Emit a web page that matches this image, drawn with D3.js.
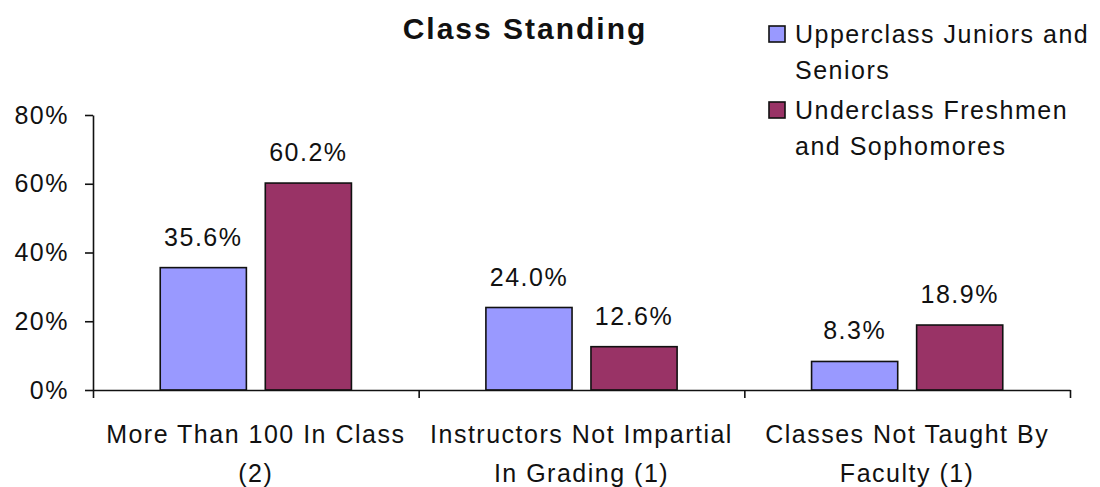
<!DOCTYPE html>
<html lang="en">
<head>
  <meta charset="UTF-8">
  <script src="https://cdn.jsdelivr.net/npm/d3@7"></script>
  <title>Class Standing</title>
  <style>
    body { margin: 0; background: #fff; }
    text { font-family: "Liberation Sans", Arial, sans-serif; fill: #111; }
    .lbl { font-size: 25px; letter-spacing: 1.5px; }
    .axis path, .axis line { stroke: #111; stroke-width: 1.6; }
    .bar { stroke: #111; stroke-width: 1.6; }
  </style>
</head>
<body>
  <script>
    const categories = ["More Than 100 In Class (2)", "Instructors Not Impartial In Grading (1)", "Classes Not Taught By Faculty (1)"]
    const categoryLines = [["More Than 100 In Class", "(2)"], ["Instructors Not Impartial", "In Grading (1)"], ["Classes Not Taught By", "Faculty (1)"]]
    const series = ["Upperclass Juniors and Seniors", "Underclass Freshmen and Sophomores"]
    const seriesLines = [["Upperclass Juniors and", "Seniors"], ["Underclass Freshmen", "and Sophomores"]]
    const upperclass = [0.356, 0.240, 0.083]
    const underclass = [0.602, 0.126, 0.189]
    const yTicks = [0, 0.2, 0.4, 0.6, 0.8]
    const colors = ["#9999ff", "#993366"]

    const values = [upperclass, underclass]
    const data = categories.map((c, i) => ({ cat: c, vals: series.map((s, j) => ({ s, v: values[j][i] })) }))

    const svg = d3.select('body').append('svg')
      .attr('width', 1100)
      .attr('height', 487)

    const y = d3.scaleLinear().domain([0, 0.8]).range([390, 115])
    const x0 = d3.scaleBand().domain(categories).range([93, 1070])
    const x1 = d3.scaleBand().domain(series).range([0, x0.bandwidth()])
      .paddingInner(0.18).paddingOuter(0.64)
    const color = d3.scaleOrdinal().domain(series).range(colors)

    // title
    svg.append('text')
      .attr('x', 525).attr('y', 39)
      .attr('text-anchor', 'middle')
      .style('font-size', '30px').style('font-weight', 'bold').style('letter-spacing', '2px')
      .text('Class Standing')

    // y axis
    svg.append('g').attr('class', 'axis')
      .attr('transform', 'translate(93,0)')
      .call(d3.axisLeft(y).tickValues(yTicks).tickFormat(d3.format('.0%')).tickSize(8).tickSizeOuter(0).tickPadding(16))
      .call(g => g.selectAll('text').attr('class', 'lbl').style('font-size', null).style('font-family', null))
      .call(g => g.selectAll('.tick text').attr('font-size', null).attr('font-family', null))

    // bars
    const grp = svg.selectAll('g.cat').data(data).enter().append('g')
      .attr('class', 'cat')
      .attr('transform', d => `translate(${x0(d.cat)},0)`)

    grp.selectAll('rect').data(d => d.vals).enter().append('rect')
      .attr('class', 'bar')
      .attr('x', d => x1(d.s))
      .attr('y', d => y(d.v))
      .attr('width', x1.bandwidth())
      .attr('height', d => y(0) - y(d.v))
      .attr('fill', d => color(d.s))

    grp.selectAll('text.val').data(d => d.vals).enter().append('text')
      .attr('class', 'val lbl')
      .attr('x', d => x1(d.s) + x1.bandwidth() / 2)
      .attr('y', d => y(d.v) - 22)
      .attr('text-anchor', 'middle')
      .text(d => d3.format('.1%')(d.v))

    // x axis with ticks on category boundaries
    const xEdge = d3.scaleLinear().domain([0, categories.length]).range(x0.range())
    svg.append('g').attr('class', 'axis')
      .attr('transform', `translate(0,${y(0)})`)
      .call(d3.axisBottom(xEdge).ticks(categories.length).tickFormat('').tickSize(8).tickSizeOuter(0))

    // category labels
    categories.forEach((c, i) => {
      const t = svg.append('text').attr('class', 'lbl')
        .attr('text-anchor', 'middle')
        .attr('x', x0(c) + x0.bandwidth() / 2)
        .attr('y', 443)
      categoryLines[i].forEach((line, k) => {
        t.append('tspan').attr('x', x0(c) + x0.bandwidth() / 2).attr('dy', k === 0 ? 0 : 39).text(line)
      })
    })

    // legend
    const legendY = [26, 102]
    series.forEach((s, i) => {
      svg.append('rect')
        .attr('x', 769).attr('y', legendY[i])
        .attr('width', 16).attr('height', 16)
        .attr('fill', color(s)).attr('stroke', '#111').attr('stroke-width', 1.6)
      const t = svg.append('text').attr('class', 'lbl')
        .attr('x', 795).attr('y', legendY[i] + 17)
      seriesLines[i].forEach((line, k) => {
        t.append('tspan').attr('x', 795).attr('dy', k === 0 ? 0 : 36).text(line)
      })
    })
  </script>
</body>
</html>
